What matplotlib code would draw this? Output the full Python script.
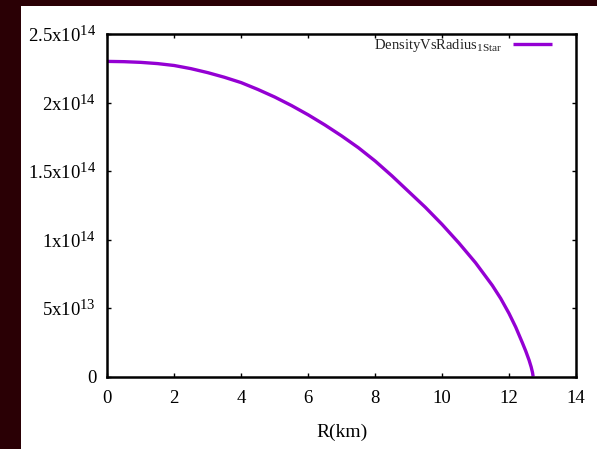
import matplotlib
matplotlib.use("Agg")
import matplotlib.pyplot as plt
from matplotlib.patches import Rectangle
from matplotlib.ticker import FixedLocator, FixedFormatter

try:
    import matplotlib._mathtext as _mt
    _mt.SHRINK_FACTOR = 0.78
except Exception:
    pass

# ---- data ----
radius_km = [0, 0.5, 1, 1.5, 2, 2.5, 3, 3.5, 4, 4.5, 5, 5.5, 6, 6.5, 7, 7.5, 8, 8.5,
             9, 9.5, 10, 10.5, 11, 11.5, 11.75, 12, 12.2, 12.4, 12.5, 12.6, 12.66, 12.7, 12.72]
density = [2.300e14, 2.298e14, 2.293e14, 2.284e14, 2.270e14, 2.247e14, 2.218e14, 2.184e14,
           2.145e14, 2.095e14, 2.040e14, 1.978e14, 1.910e14, 1.836e14, 1.756e14, 1.670e14,
           1.573e14, 1.465e14, 1.350e14, 1.235e14, 1.110e14, 0.975e14, 0.830e14, 0.665e14,
           0.570e14, 0.460e14, 0.360e14, 0.245e14, 0.185e14, 0.118e14, 0.070e14, 0.030e14, 0.0]
series_label = r"DensityVsRadius$_{\mathrm{1Star}}$"
x_ticks = [0, 2, 4, 6, 8, 10, 12, 14]
x_ticklabels = ["0", "2", "4", "6", "8", "10", "12", "14"]
y_ticks = [0, 0.5e14, 1.0e14, 1.5e14, 2.0e14, 2.5e14]
y_ticklabels = ["0", r"5x10$^{13}$", r"1x10$^{14}$", r"1.5x10$^{14}$", r"2x10$^{14}$", r"2.5x10$^{14}$"]
x_label = "R(km)"

plt.rcParams["font.family"] = ["Liberation Serif", "DejaVu Serif"]
plt.rcParams["mathtext.fontset"] = "custom"
plt.rcParams["mathtext.rm"] = "Liberation Serif"
plt.rcParams["mathtext.it"] = "Liberation Serif:italic"
plt.rcParams["mathtext.bf"] = "Liberation Serif:bold"

W, H = 597, 449
fig = plt.figure(figsize=(W / 100, H / 100), dpi=100, facecolor="#2a0005")
fig.patches.append(Rectangle((20.7 / W, 0), 1 - 20.7 / W, 1 - 6 / H,
                             transform=fig.transFigure, facecolor="white",
                             edgecolor="none", zorder=-10))

left, right, top, bottom = 107.3, 576.0, 34.0, 376.5
ax = fig.add_axes([left / W, 1 - bottom / H, (right - left) / W, (bottom - top) / H])
ax.set_facecolor("white")

ax.plot(radius_km, density, color="#9400D3", lw=2.4, label=series_label,
        solid_capstyle="butt", solid_joinstyle="round")

ax.set_xlim(0, 14)
ax.set_ylim(0, 2.5e14)
ax.xaxis.set_major_locator(FixedLocator(x_ticks))
ax.xaxis.set_major_formatter(FixedFormatter(x_ticklabels))
ax.yaxis.set_major_locator(FixedLocator(y_ticks))
ax.yaxis.set_major_formatter(FixedFormatter(y_ticklabels))
ax.tick_params(direction="in", length=3, width=1, top=True, right=True,
               labelsize=13.5, colors="black")
ax.tick_params(axis="x", pad=10)
ax.tick_params(axis="y", pad=8)
for s in ax.spines.values():
    s.set_linewidth(1.8)
    s.set_color("black")

ax.set_xlabel(x_label, fontsize=14, labelpad=12)

leg = ax.legend(loc="center right",
                bbox_to_anchor=((552 - left) / (right - left), 1 - (45.5 - top) / (bottom - top)),
                frameon=False, markerfirst=False, fontsize=10.5, handlelength=2.7,
                handletextpad=0.7, borderpad=0, borderaxespad=0)
for t in leg.get_texts():
    t.set_color("#222222")

fig.savefig("out.png", dpi=100, facecolor=fig.get_facecolor())
